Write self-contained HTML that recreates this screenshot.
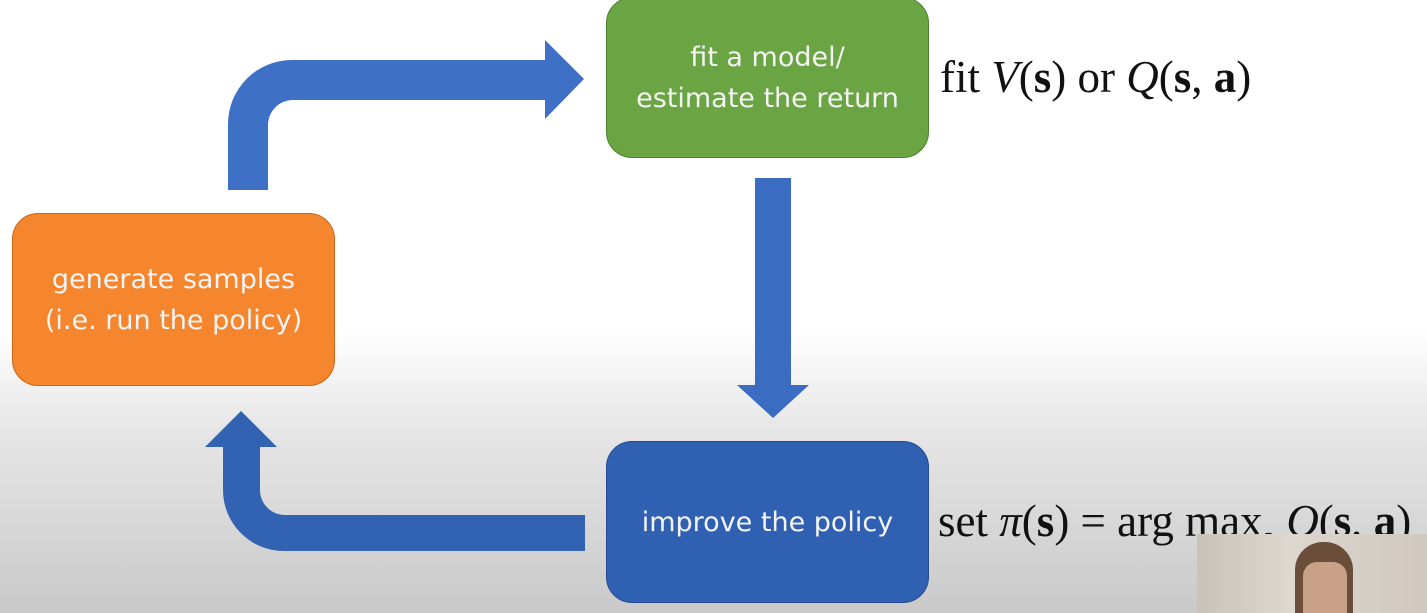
<!DOCTYPE html>
<html><head><meta charset="utf-8"><style>
html,body{margin:0;padding:0}
body{width:1427px;height:613px;position:relative;overflow:hidden;
background:linear-gradient(to bottom,#ffffff 0px,#ffffff 330px,#e6e6e6 430px,#c9c9c9 613px);
font-family:"DejaVu Sans","Liberation Sans",sans-serif}
.box{position:absolute;border-radius:26px;color:#f4f4f4;display:flex;align-items:center;justify-content:center;text-align:center;font-size:27px;line-height:41px}
.m{position:absolute;font-family:"Liberation Serif",serif;font-size:45px;color:#111;white-space:nowrap;line-height:50px}
.m i{font-style:italic}
.m b{font-weight:bold}
</style></head><body>
<svg width="1427" height="613" style="position:absolute;left:0;top:0">
<path d="M228,190 L228,124 A64,64 0 0 1 292,60 L545,60 L545,40 L584,79 L545,119 L545,100 L293,100 A25,25 0 0 0 268,125 L268,190 Z" fill="#3e70c6"/>
<path d="M585,515 L585,551 L284,551 A61,61 0 0 1 223,490 L223,447 L205,447 L241,411 L277,447 L260,447 L260,490 A25,25 0 0 0 285,515 Z" fill="#3262b2"/>
<path d="M755,178 L791,178 L791,385 L809,385 L773,418 L737,385 L755,385 Z" fill="#3a6cc2"/>
</svg>
<div class="box" style="left:12px;top:213px;width:321px;height:171px;background:#f5862d;border:1px solid #c8661a">generate samples<br>(i.e. run the policy)</div>
<div class="box" style="left:606px;top:-3px;width:321px;height:159px;background:#6aa443;border:1px solid #4f8030">fit a model/<br>estimate the return</div>
<div class="box" style="left:606px;top:441px;width:321px;height:160px;background:#2f60b1;border:1px solid #244c90">improve the policy</div>
<div class="m" style="left:940px;top:52px">fit <i>V</i>(<b>s</b>) or <i>Q</i>(<b>s</b>, <b>a</b>)</div>
<div class="m" style="left:938px;top:496px">set <i>π</i>(<b>s</b>) = arg max<sub style="font-size:28px">a</sub> <i>Q</i>(<b>s</b>, <b>a</b>)</div>
<div style="position:absolute;left:1197px;top:534px;width:230px;height:79px;background:linear-gradient(to right,#c9c2b8,#ddd7cf 40%,#cfc8be)">
<div style="position:absolute;left:98px;top:8px;width:58px;height:71px;border-radius:28px 28px 0 0;background:#6b4e3a"></div>
<div style="position:absolute;left:106px;top:28px;width:44px;height:51px;border-radius:14px 14px 0 0;background:#c9a088"></div>
</div>
</body></html>
